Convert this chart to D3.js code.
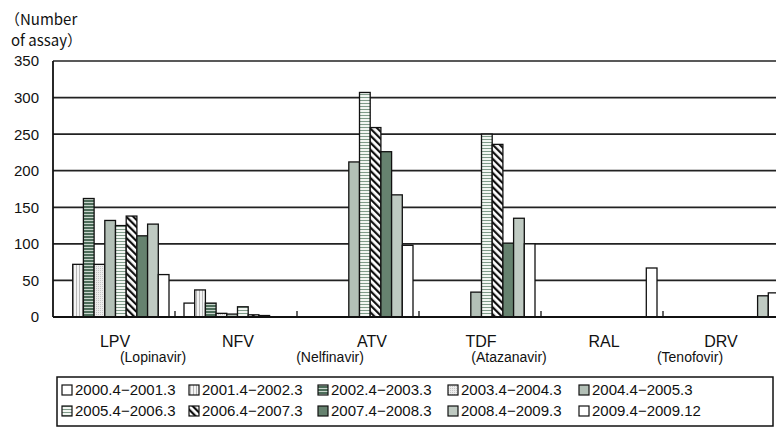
<!DOCTYPE html>
<html>
<head>
<meta charset="utf-8">
<script src="https://cdn.jsdelivr.net/npm/d3@7"></script>
<style>
  html, body { margin: 0; padding: 0; background: #fff; }
  svg { display: block; }
  text { font-family: "Liberation Sans", Arial, "Noto Sans CJK JP", sans-serif; fill: #111; }
</style>
</head>
<body>
<svg id="chart" width="776" height="430"></svg>
<script>
// Drug categories shown along the x axis
const categories = ["LPV", "NFV", "ATV", "TDF", "RAL", "DRV"];
const subLabels = ["(Lopinavir)", "", "(Nelfinavir)", "(Atazanavir)", "", "(Tenofovir)"];

// Fiscal periods (one bar series each)
const periods = [
  "2000.4−2001.3", "2001.4−2002.3", "2002.4−2003.3", "2003.4−2004.3", "2004.4−2005.3",
  "2005.4−2006.3", "2006.4−2007.3", "2007.4−2008.3", "2008.4−2009.3", "2009.4−2009.12"
];

// Number of assays per period, in category order (LPV, NFV, ATV, TDF, RAL, DRV)
const p2000 = [0, 19, 0, 0, 0, 0];
const p2001 = [72, 37, 0, 0, 0, 0];
const p2002 = [162, 19, 0, 0, 0, 0];
const p2003 = [72, 5, 0, 0, 0, 0];
const p2004 = [132, 4, 212, 34, 0, 0];
const p2005 = [125, 14, 307, 250, 0, 0];
const p2006 = [138, 3, 259, 236, 0, 0];
const p2007 = [111, 2, 226, 101, 0, 0];
const p2008 = [127, 0, 167, 135, 0, 29];
const p2009 = [58, 0, 98, 100, 67, 33];
const seriesValues = [p2000, p2001, p2002, p2003, p2004, p2005, p2006, p2007, p2008, p2009];

// Y axis ticks
const yTicks = [0, 50, 100, 150, 200, 250, 300, 350];

const svg = d3.select("#chart");
svg.append("rect").attr("width", 776).attr("height", 430).attr("fill", "#fff");

// ---- fill patterns -------------------------------------------------------
const defs = svg.append("defs");
const darkGreen = "#4d6d5a";
function pat(id, w, h, build) {
  const p = defs.append("pattern").attr("id", id)
    .attr("patternUnits", "userSpaceOnUse").attr("width", w).attr("height", h);
  build(p);
}
// vertical fine stripes
pat("pVert", 3, 3, p => {
  p.append("rect").attr("width", 3).attr("height", 3).attr("fill", "#f4f4f4");
  p.append("rect").attr("x", 1).attr("width", 1).attr("height", 3).attr("fill", "#b8b8b8");
});
// dark green with light horizontal lines
pat("pDarkH", 3, 3, p => {
  p.append("rect").attr("width", 3).attr("height", 3).attr("fill", darkGreen);
  p.append("rect").attr("y", 1).attr("width", 3).attr("height", 1).attr("fill", "#c9d6cd");
});
// light dotted gray
pat("pDots", 2, 2, p => {
  p.append("rect").attr("width", 2).attr("height", 2).attr("fill", "#ececec");
  p.append("rect").attr("width", 1).attr("height", 1).attr("fill", "#c6c6c6");
});
// light with green horizontal lines
pat("pLightH", 3, 3, p => {
  p.append("rect").attr("width", 3).attr("height", 3).attr("fill", "#f2f6f2");
  p.append("rect").attr("y", 1).attr("width", 3).attr("height", 1).attr("fill", "#7f9b89");
});
// black diagonal stripes (top-left to bottom-right)
pat("pDiag", 5, 5, p => {
  p.attr("patternTransform", "rotate(-45)");
  p.append("rect").attr("width", 5).attr("height", 5).attr("fill", "#fff");
  p.append("rect").attr("width", 2.2).attr("height", 5).attr("fill", "#111");
});

const fills = [
  "#ffffff", "url(#pVert)", "url(#pDarkH)", "url(#pDots)", "#b3c0b7",
  "url(#pLightH)", "url(#pDiag)", "#66826f", "#bfcac2", "#ffffff"
];

// ---- scales --------------------------------------------------------------
const plotLeft = 53, plotRight = 785, plotTop = 61, plotBottom = 317;
const y = d3.scaleLinear().domain([0, 350]).range([plotBottom, plotTop]);
const x0 = d3.scaleBand().domain(categories).range([plotLeft, plotRight]);
const x1 = d3.scaleBand().domain(d3.range(periods.length))
  .range([9, x0.bandwidth() - 6]);

// gridlines
svg.append("g").selectAll("line").data(yTicks.filter(t => t > 0)).join("line")
  .attr("x1", plotLeft).attr("x2", plotRight)
  .attr("y1", d => y(d)).attr("y2", d => y(d))
  .attr("stroke", "#222").attr("stroke-width", 1.7);

// y tick labels
svg.append("g").selectAll("text").data(yTicks).join("text")
  .attr("x", 39).attr("y", d => y(d)).attr("dy", "0.36em")
  .attr("text-anchor", "end").attr("font-size", 15)
  .text(d => d);

// axis title
svg.append("text").attr("x", 5).attr("y", 25).attr("font-size", 15)
  .style("font-family", "'Noto Sans CJK JP', sans-serif").text("（Number");
svg.append("text").attr("x", 11).attr("y", 46).attr("font-size", 15)
  .style("font-family", "'Noto Sans CJK JP', sans-serif").text("of assay）");

// bars
const barData = [];
seriesValues.forEach((vals, si) => {
  vals.forEach((v, ci) => { if (v > 0) barData.push({ si, ci, v }); });
});
svg.append("g").selectAll("rect").data(barData).join("rect")
  .attr("x", d => x0(categories[d.ci]) + x1(d.si))
  .attr("y", d => y(d.v))
  .attr("width", x1.bandwidth())
  .attr("height", d => y(0) - y(d.v))
  .attr("fill", d => fills[d.si])
  .attr("stroke", "#111").attr("stroke-width", 1.3);

// axes lines
svg.append("line").attr("x1", plotLeft).attr("x2", plotLeft)
  .attr("y1", plotTop).attr("y2", plotBottom)
  .attr("stroke", "#111").attr("stroke-width", 1.8);
svg.append("line").attr("x1", plotLeft).attr("x2", plotRight)
  .attr("y1", plotBottom).attr("y2", plotBottom)
  .attr("stroke", "#111").attr("stroke-width", 1.8);

// category boundary ticks (pointing inward)
svg.append("g").selectAll("line").data(categories.slice(1)).join("line")
  .attr("x1", d => x0(d)).attr("x2", d => x0(d))
  .attr("y1", plotBottom).attr("y2", plotBottom - 6)
  .attr("stroke", "#111").attr("stroke-width", 1.3);

// category labels
const labelDx = [1, 2, 14, 1, 2, -3];
const subDx = [39, 0, -28, 29, 0, -34];
const catG = svg.append("g");
catG.selectAll("text.main").data(categories).join("text").attr("class", "main")
  .attr("x", (d, i) => x0(d) + x0.bandwidth() / 2 + labelDx[i])
  .attr("y", 347).attr("text-anchor", "middle").attr("font-size", 16)
  .text(d => d);
catG.selectAll("text.sub").data(subLabels).join("text").attr("class", "sub")
  .attr("x", (d, i) => x0(categories[i]) + x0.bandwidth() / 2 + subDx[i])
  .attr("y", 362).attr("text-anchor", "middle").attr("font-size", 14)
  .text(d => d);

// legend
const lg = svg.append("g");
lg.append("rect").attr("x", 57).attr("y", 377).attr("width", 716).attr("height", 49)
  .attr("fill", "#fff").attr("stroke", "#111").attr("stroke-width", 1.5);
const colX = [62, 189, 318, 448, 579];
const rowY = [390, 411];
const items = lg.selectAll("g.item").data(periods).join("g").attr("class", "item")
  .attr("transform", (d, i) => `translate(${colX[i % 5]},${rowY[Math.floor(i / 5)]})`);
items.append("rect").attr("x", 0).attr("y", -5).attr("width", 10).attr("height", 10)
  .attr("fill", (d, i) => fills[i]).attr("stroke", "#111").attr("stroke-width", 1.2);
items.append("text").attr("x", 13).attr("y", 0).attr("dy", "0.36em")
  .attr("font-size", 15).text(d => d);
</script>
</body>
</html>
